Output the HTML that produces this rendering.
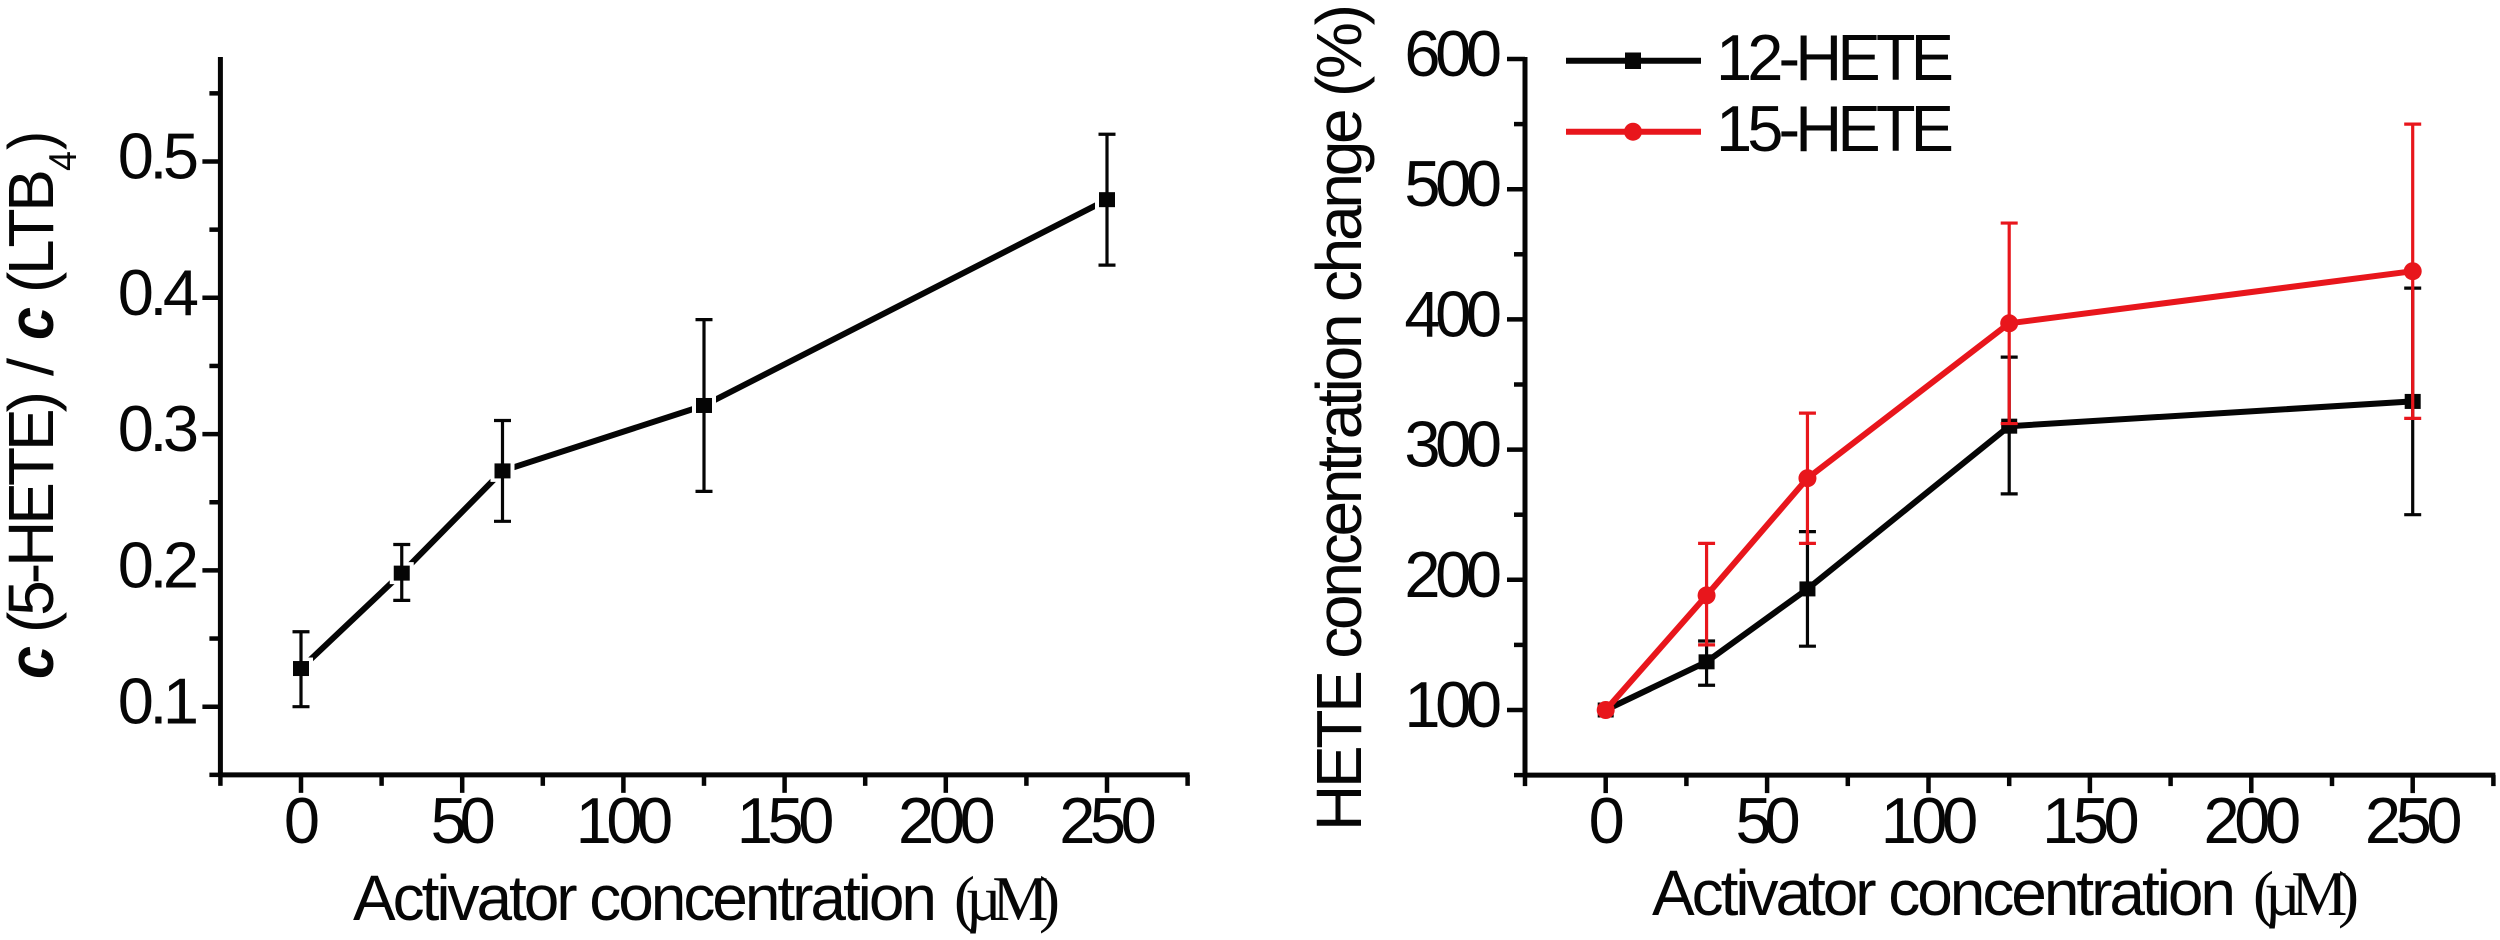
<!DOCTYPE html>
<html lang="en">
<head>
<meta charset="utf-8">
<title>HETE concentration charts</title>
<style>
html,body{margin:0;padding:0;background:#fff;width:2500px;height:940px;overflow:hidden}
svg{display:block;position:absolute;left:0;top:0}
text{font-family:"Liberation Sans",Arial,sans-serif;fill:#060606}
</style>
</head>
<body>
<svg id="figure" width="2500" height="940" viewBox="0 0 2500 940" xmlns="http://www.w3.org/2000/svg"></svg>
<script>
// Shared x-axis data
const concentrations = [0, 31.25, 62.5, 125, 250];
const xMajorTicks = [0, 50, 100, 150, 200, 250];
const xMinorTicks = [-25, 25, 75, 125, 175, 225, 275];

// Left chart data
const ratioValues = [0.128, 0.198, 0.273, 0.321, 0.472];
const ratioUpper = [0.155, 0.219, 0.310, 0.384, 0.520];
const ratioLower = [0.100, 0.178, 0.236, 0.258, 0.424];
const leftMajorTicks = [0.1, 0.2, 0.3, 0.4, 0.5];
const leftMinorTicks = [0.05, 0.15, 0.25, 0.35, 0.45, 0.55];
const leftTickLabels = ["0.1", "0.2", "0.3", "0.4", "0.5"];

// Right chart data
const hete12Values = [100, 137, 193, 318, 337];
const hete12Upper = [100, 153, 237, 371, 424];
const hete12Lower = [100, 119, 149, 266, 250];
const hete15Values = [100, 188, 278, 397, 437];
const hete15Upper = [100, 228, 328, 474, 550];
const hete15Lower = [100, 150, 228, 320, 324];
const rightMajorTicks = [100, 200, 300, 400, 500, 600];
const rightMinorTicks = [50, 150, 250, 350, 450, 550];
const rightTickLabels = ["100", "200", "300", "400", "500", "600"];

const NS = "http://www.w3.org/2000/svg";
const fig = document.getElementById("figure");
const BLACK = "#050505";
const RED = "#e8161c";

function mk(tag, parent, attrs) {
  const el = document.createElementNS(NS, tag);
  for (const k in attrs) el.setAttribute(k, attrs[k]);
  parent.appendChild(el);
  return el;
}
function fitText(el, ratio) {
  el.setAttribute("textLength", (el.getComputedTextLength() * ratio).toFixed(1));
  el.setAttribute("lengthAdjust", "spacing");
}

// Axis functions
const xLeft = v => 301 + v * 3.224;
const yLeft = v => 706.7 - (v - 0.1) * 1363;
const xRight = v => 1605.7 + v * 3.228;
const yRight = v => 710 - (v - 100) * 1.302;

function drawAxes(parent, xFn, yFn, yTop, xMajor, xMinor, yMajor, yMinor, yLabels, labelRight) {
  const x0 = xFn(-25), y0 = yFn(yMinor[0]), x1 = xFn(275);
  const yAxis = mk("line", parent, {x1: x0, x2: x0, y1: yTop - 2, y2: y0 + 2, stroke: BLACK, "stroke-width": 5});
  
  
  const xAxis = mk("line", parent, {x1: x0 - 2, x2: x1 + 2, y1: y0, y2: y0, stroke: BLACK, "stroke-width": 5});
  
  

  yMajor.forEach((v, i) => {
    const t = mk("line", parent, {x1: x0 - 18, x2: x0, y1: yFn(v), y2: yFn(v), stroke: BLACK, "stroke-width": 4.5});
    
    
    const l = mk("text", parent, {x: labelRight, y: yFn(v) + 17, "font-size": 65, "text-anchor": "end"});
    l.textContent = yLabels[i];
    
    
    fitText(l, 0.9);
  });
  yMinor.forEach(v => {
    const t = mk("line", parent, {x1: x0 - 11, x2: x0, y1: yFn(v), y2: yFn(v), stroke: BLACK, "stroke-width": 4.5});
    
    
  });
  xMajor.forEach(v => {
    const t = mk("line", parent, {x1: xFn(v), x2: xFn(v), y1: y0, y2: y0 + 18, stroke: BLACK, "stroke-width": 4.5});
    
    
    const l = mk("text", parent, {x: xFn(v) + 1, y: 843, "font-size": 65, "text-anchor": "middle"});
    l.textContent = String(v);
    
    
    fitText(l, 0.9);
  });
  xMinor.forEach(v => {
    const t = mk("line", parent, {x1: xFn(v), x2: xFn(v), y1: y0, y2: y0 + 11, stroke: BLACK, "stroke-width": 4.5});
    
    
  });
}

function drawSeries(parent, xFn, yFn, xs, vals, up, lo, color, shape, halo) {
  const pts = xs.map((v, i) => xFn(v).toFixed(1) + "," + yFn(vals[i]).toFixed(1)).join(" ");
  const line = mk("polyline", parent, {points: pts, fill: "none", stroke: color, "stroke-width": 6, "stroke-linejoin": "round"});
  
  
  xs.forEach((v, i) => {
    const cx = xFn(v), cy = yFn(vals[i]);
    if (halo) {
      const h = mk("rect", parent, {x: cx - 12, y: cy - 11, width: 24, height: 22, fill: "#fff"});
      
      
    }
    if (up[i] !== lo[i]) {
      const bar = mk("line", parent, {x1: cx, x2: cx, y1: yFn(up[i]), y2: yFn(lo[i]), stroke: color, "stroke-width": 3.2});
      
      
      const capU = mk("line", parent, {x1: cx - 8.5, x2: cx + 8.5, y1: yFn(up[i]), y2: yFn(up[i]), stroke: color, "stroke-width": 3.2});
      
      
      const capL = mk("line", parent, {x1: cx - 8.5, x2: cx + 8.5, y1: yFn(lo[i]), y2: yFn(lo[i]), stroke: color, "stroke-width": 3.2});
      
      
    }
    let m;
    if (shape === "square") {
      m = mk("rect", parent, {x: cx - 8, y: cy - 7.5, width: 16, height: 15, fill: color});
    } else {
      m = mk("ellipse", parent, {cx: cx, cy: cy, rx: 9, ry: 9, fill: color});
    }
    
    
  });
}

function xTitle(parent, xStart, xParen, baseline) {
  const a = mk("text", parent, {x: xStart - 1, y: baseline, "font-size": 64, textLength: 584, lengthAdjust: "spacing"});
  a.textContent = "Activator concentration";
  
  
  const u = mk("text", parent, {x: xParen, y: baseline, "font-size": 63, textLength: 106, lengthAdjust: "spacing"});
  u.style.fontFamily = '"Liberation Serif",serif';
  u.textContent = "(\u00b5M)";
  
  
}

function rotated(parent, startY, baseX, str, size, len, bold) {
  const t = mk("text", parent, {transform: "translate(" + baseX + "," + startY + ") rotate(-90)", "font-size": size});
  t.textContent = str;
  if (len) { t.setAttribute("textLength", len); t.setAttribute("lengthAdjust", str.length > 1 ? "spacing" : "spacingAndGlyphs"); }
  if (bold) { t.setAttribute("font-weight", "bold"); t.setAttribute("font-style", "italic"); }
  return t;
}

// Left chart
const left = mk("g", fig, {});


drawAxes(left, xLeft, yLeft, 59, xMajorTicks, xMinorTicks, leftMajorTicks, leftMinorTicks, leftTickLabels, 199);
drawSeries(left, xLeft, yLeft, concentrations, ratioValues, ratioUpper, ratioLower, BLACK, "square", true);
xTitle(left, 354, 954, 920);
const lt1 = rotated(left, 679, 53, "c", 64, 33, true);


const lt2 = rotated(left, 633, 53, "(5-HETE)", 64, 242, false);


const lt3 = rotated(left, 376, 53, "/", 64, 18, false);


const lt4 = rotated(left, 340, 53, "c", 64, 33, true);


const lt5 = rotated(left, 293, 53, "(LTB", 64, 124, false);


const lt6 = rotated(left, 171, 76, "4", 39, 20, false);


const lt7 = rotated(left, 150, 53, ")", 64, 19, false);



// Right chart
const right = mk("g", fig, {});


drawAxes(right, xRight, yRight, 59, xMajorTicks, xMinorTicks, rightMajorTicks, rightMinorTicks, rightTickLabels, 1502);
drawSeries(right, xRight, yRight, concentrations, hete12Values, hete12Upper, hete12Lower, BLACK, "square", false);
drawSeries(right, xRight, yRight, concentrations, hete15Values, hete15Upper, hete15Lower, RED, "circle", false);
xTitle(right, 1653, 2253, 915);
const rt = rotated(right, 831, 1361, "HETE concentration change (%)", 64, 827, false);



// Legend
const legend = mk("g", right, {});


const l1 = mk("line", legend, {x1: 1566, x2: 1701, y1: 60.7, y2: 60.7, stroke: BLACK, "stroke-width": 6});


const m1 = mk("rect", legend, {x: 1625, y: 52.5, width: 16, height: 16.5, fill: BLACK});


const t1 = mk("text", legend, {x: 1716, y: 80, "font-size": 65, textLength: 238, lengthAdjust: "spacing"});
t1.textContent = "12-HETE";


const l2 = mk("line", legend, {x1: 1566, x2: 1701, y1: 131.7, y2: 131.7, stroke: RED, "stroke-width": 6});


const m2 = mk("circle", legend, {cx: 1633, cy: 131.7, r: 9, fill: RED});


const t2 = mk("text", legend, {x: 1716, y: 151, "font-size": 65, textLength: 238, lengthAdjust: "spacing"});
t2.textContent = "15-HETE";


</script>
</body>
</html>
